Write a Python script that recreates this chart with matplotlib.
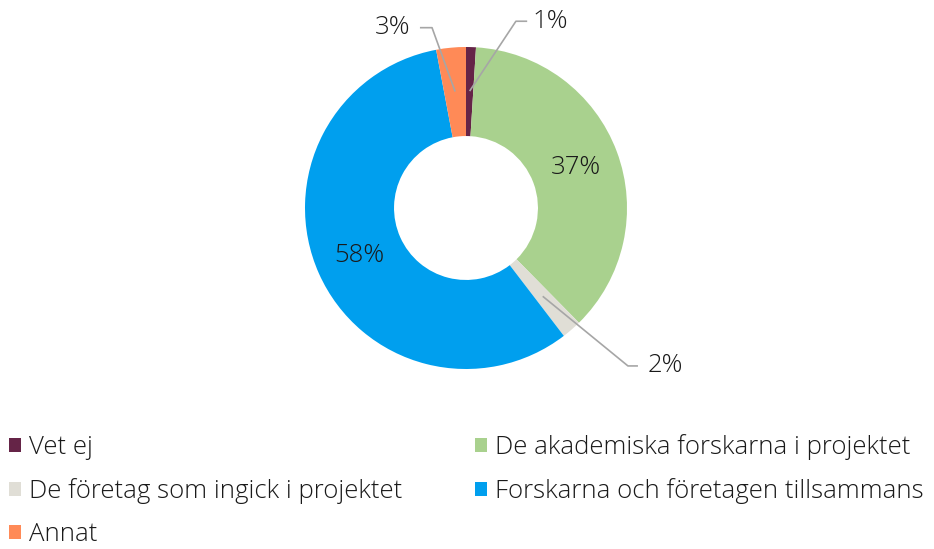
import numpy as np
import matplotlib.pyplot as plt

plt.rcParams['font.family'] = ['Open Sans', 'DejaVu Sans']
plt.rcParams['font.weight'] = 'light'

labels = ["Vet ej", "De akademiska forskarna i projektet",
          "De företag som ingick i projektet",
          "Forskarna och företagen tillsammans", "Annat"]
values = [1, 37, 2, 58, 3]
colors = ["#652447", "#A9D18E", "#E0DED6", "#009FEE", "#FF8A57"]

text_color = "#1a1a1a"
line_color = "#A6A6A6"
fs = 18.5

fig = plt.figure(figsize=(9.34, 5.49), dpi=100)
ax = fig.add_axes([305 / 934, 180 / 549, 322 / 934, 322 / 549])

inner = 0.447
wedges, _ = ax.pie(values, colors=colors, startangle=90, counterclock=False,
                   radius=1, wedgeprops=dict(width=1 - inner, linewidth=0))
ax.set_xlim(-1, 1)
ax.set_ylim(-1, 1)
ax.set_aspect("equal")

mid_r = (1 + inner) / 2 + 0.003


def mid_point(w, r):
    ang = np.deg2rad((w.theta1 + w.theta2) / 2)
    return r * np.cos(ang), r * np.sin(ang)


# labels inside the two big wedges
for i in (1, 3):
    x, y = mid_point(wedges[i], mid_r)
    ax.text(x, y, f"{values[i]}%", ha="center", va="center",
            fontsize=fs, color=text_color)

# leader lines for the small wedges: (elbow, line end, text x, alignment)
callouts = {
    0: ((0.31, 1.16), 0.38, 0.415, "left"),
    2: ((1.006, -0.981), 1.068, 1.13, "left"),
    4: ((-0.211, 1.12), -0.286, -0.345, "right"),
}
for i, (elbow, end_x, tx, ha) in callouts.items():
    x0, y0 = mid_point(wedges[i], mid_r)
    ax.plot([x0, elbow[0], end_x], [y0, elbow[1], elbow[1]],
            color=line_color, lw=1.2, clip_on=False, solid_capstyle="butt")
    ax.text(tx, elbow[1], f"{values[i]}%", ha=ha, va="center",
            fontsize=fs, color=text_color, clip_on=False)

# legend filled row by row
order = [0, 2, 4, 1, 3]
fig.legend([wedges[i] for i in order], [labels[i] for i in order],
           ncol=2, loc="upper left", bbox_to_anchor=(9 / 934, 1 - 434 / 549),
           frameon=False, fontsize=fs, handlelength=0.47, handleheight=0.47,
           handletextpad=0.3, columnspacing=2.85, labelspacing=0.7,
           borderpad=0, borderaxespad=0, labelcolor=text_color)

fig.savefig("out.png", dpi=100)
